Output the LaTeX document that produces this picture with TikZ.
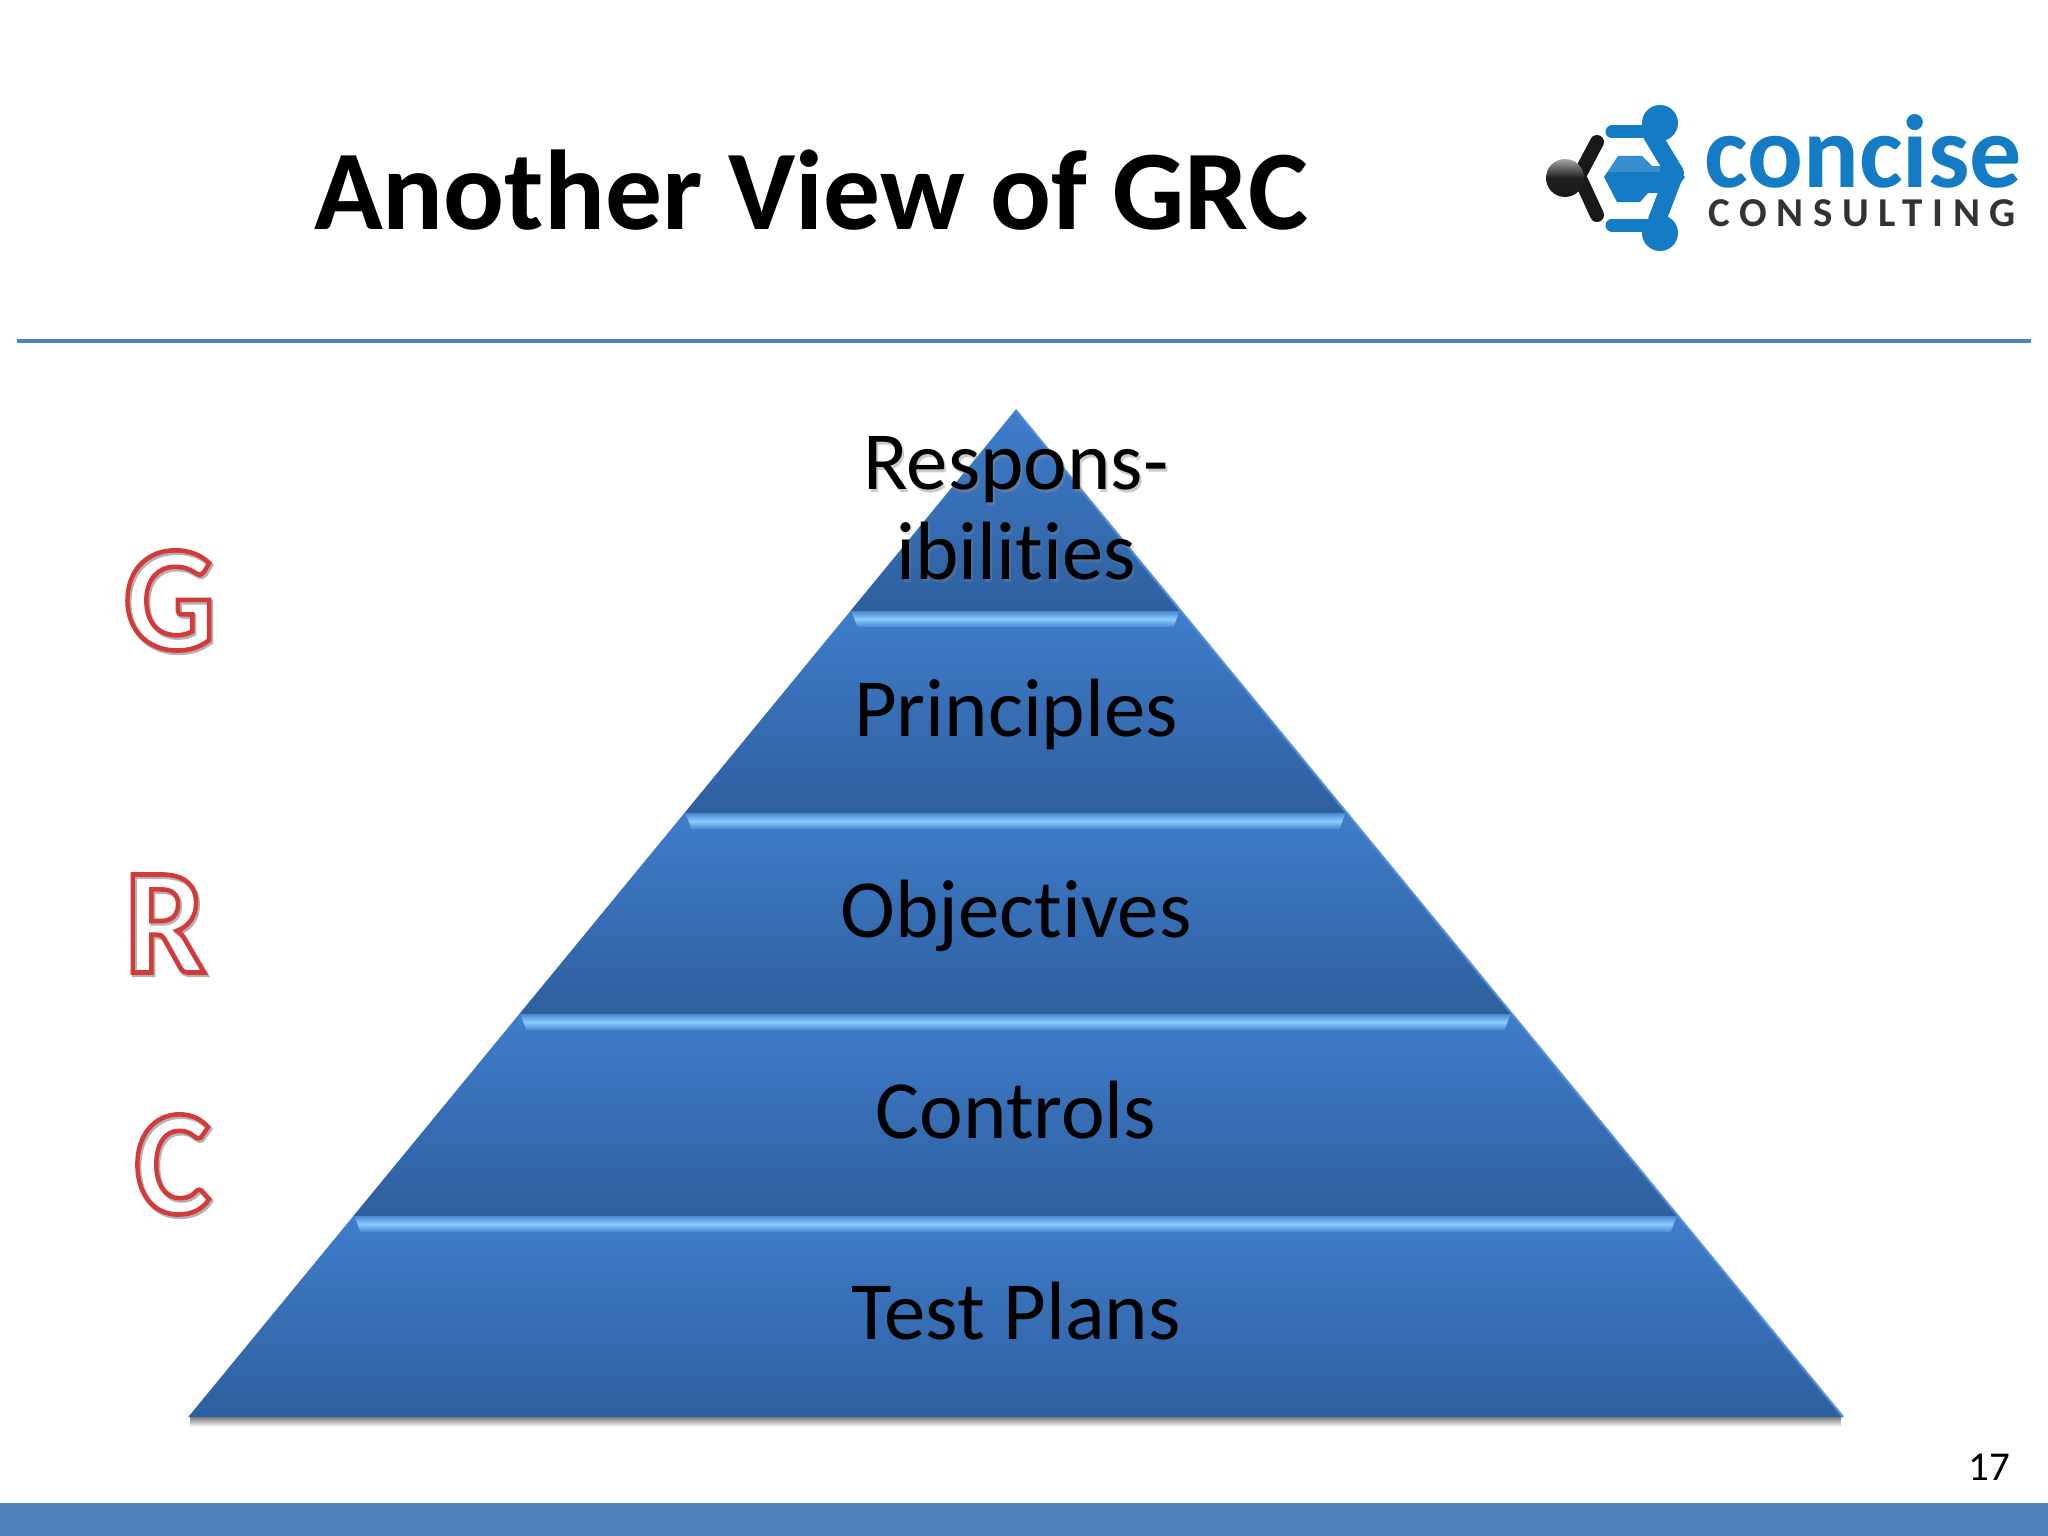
\documentclass[tikz,border=0pt]{standalone}
\usepackage{fontspec}
\setmainfont[Ligatures=NoCommon]{Carlito}
\newfontfamily\spaced[LetterSpace=23.5,Ligatures=NoCommon]{Carlito}
\usetikzlibrary{calc}
\definecolor{bandtop}{HTML}{3F7DCB}
\definecolor{bandbot}{HTML}{2E5F9E}
\definecolor{hilite}{HTML}{8ACBFF}
\definecolor{hiedge}{HTML}{4A87CF}
\definecolor{rulec}{HTML}{4F81BD}
\definecolor{logoblue}{HTML}{137CC4}
\newcommand{\outlinetext}[1]{\scalebox{1}[1.05]{\special{pdf:code q 1 Tr 4.4 w 0.83 0.23 0.22 RG 1 1 1 rg}#1\special{pdf:code Q}}}
\newcommand{\shadowtext}[1]{\scalebox{1}[1.05]{\special{pdf:code q 1 Tr 5 w 0.7 0.7 0.7 RG 1 1 1 rg}#1\special{pdf:code Q}}}
\tikzset{
  x=1pt,y=-1pt,
  pyr/.style={font=\fontsize{82.7}{90}\selectfont,anchor=base,inner sep=0pt,text=black},
  grc/.style={font=\fontsize{144}{144}\selectfont\bfseries,anchor=base,inner sep=0pt},
  hl/.style={draw=none,top color=hiedge,bottom color=hiedge,middle color=hilite},
  band/.style={draw=none,top color=bandtop,bottom color=bandbot},
  logoline/.style={logoblue,line width=13pt,line cap=round,line join=round},
  logothick/.style={logoblue,line width=18pt,line cap=round,line join=round},
  logoarm/.style={black!90,line width=14pt,line cap=round,line join=round},
}
\newcommand{\pyrband}[2]{%
  \pgfmathsetmacro{\dt}{0.8215*(#1-410)}\pgfmathsetmacro{\db}{0.8215*(#2-410)}%
  \shade[band] (1015.5-\dt,#1) -- (1015.5+\dt,#1) -- (1015.5+\db,#2) -- (1015.5-\db,#2) -- cycle;%
}
\newcommand{\pyrhl}[1]{%
  \pgfmathsetmacro{\dt}{0.8215*(#1-410)}%
  \shade[hl] (1015.5-\dt+1,#1) -- (1015.5+\dt-1,#1) -- (1015.5+\dt-7,#1+16) -- (1015.5-\dt+7,#1+16) -- cycle;%
}
\begin{document}
\begin{tikzpicture}
\useasboundingbox (0,0) rectangle (2048,1536);
\fill[white] (0,0) rectangle (2048,1536);
% title and rule
\node[font=\fontsize{113.5}{113}\selectfont\bfseries,anchor=base west,inner sep=0pt] (title) at (314,229) {Another View of GRC};
\draw[rulec,line width=4pt] (17,341) -- (2031,341);
% bottom bar
\fill[rulec] (0,1503) rectangle (2048,1536);
\node[font=\fontsize{41}{41}\selectfont,anchor=base east,inner sep=0pt] (pagenum) at (2010,1480) {17};
% pyramid
\shade[top color=black!50,bottom color=white,draw=none] (190,1417) rectangle (1841,1427);
\pyrband{410}{611}\pyrband{611}{813}\pyrband{813}{1014}\pyrband{1014}{1216}\pyrband{1216}{1417}
\pyrhl{611}\pyrhl{813}\pyrhl{1014}\pyrhl{1216}
\draw[hiedge,line width=2.5pt,opacity=.85] (1015.5,410) -- (1843,1417);
\node[pyr,text=black!45,opacity=.45] at (1018,492) {Respons-};
\node[pyr,text=black!45,opacity=.25] at (1018,582) {ibilities};
\node[pyr] (resp) at (1016,489) {Respons-};
\node[pyr] (ibil) at (1016,579) {ibilities};
\node[pyr] (prin) at (1016,736) {Principles};
\node[pyr] (obj) at (1016,937) {Objectives};
\node[pyr] (ctrl) at (1016,1138) {Controls};
\node[pyr] (test) at (1016,1339) {Test Plans};
% G R C
\node[grc] at (171,651.5) {\shadowtext{G}};
\node[grc] at (166.5,974.5) {\shadowtext{R}};
\node[grc] at (174,1215.5) {\shadowtext{C}};
\node[grc] (G) at (169.5,649.5) {\outlinetext{G}};
\node[grc] (R) at (165,972.5) {\outlinetext{R}};
\node[grc] (C) at (172.5,1213.5) {\outlinetext{C}};
% logo
\fill[logoblue] (1660,123) circle (18);
\fill[logoblue] (1660,233) circle (18);
\draw[logoline] (1612,132) -- (1648,132);
\draw[logoline] (1612,225) -- (1650,225);
\draw[logothick] (1652,135) -- (1675,173) -- (1657,220);
\fill[logoblue] (1618,156) -- (1642,156) -- (1652,166) -- (1673,166) -- (1685,177) -- (1673,193) -- (1648,193) -- (1640,202) -- (1617,202) -- (1604,177) -- cycle;
\fill[white,opacity=.15] (1618,156) -- (1642,156) -- (1652,166) -- (1660,166) -- (1660,172) -- (1606,172) -- cycle;
\draw[logoarm] (1597,142) -- (1579,176) -- (1597,215);
\shade[top color=black!35,bottom color=black!90,middle color=black!88] (1565,178) circle (19);
\node[font=\fontsize{104}{104}\selectfont\bfseries,text=logoblue,anchor=base west,inner sep=0pt] (concise) at (1704,187) {concise};
\node[font=\fontsize{41}{41}\spaced\bfseries,text=black!80,anchor=base west,inner sep=0pt] (consulting) at (1708,226) {CONSULTING};
\end{tikzpicture}
\end{document}
